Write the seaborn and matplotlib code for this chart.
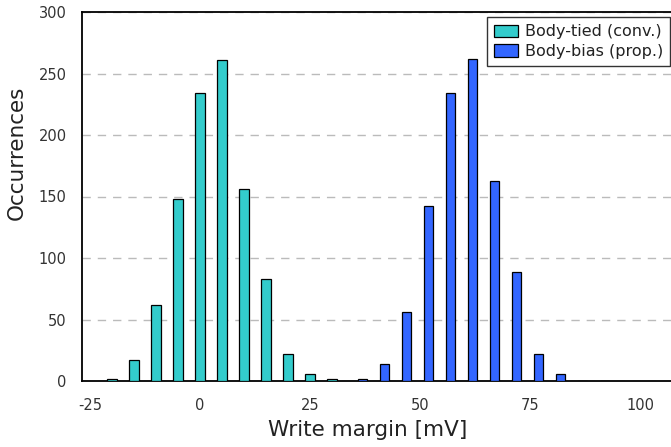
import matplotlib
matplotlib.use("Agg")
import matplotlib.pyplot as plt
import seaborn as sns
import pandas as pd

# Data
tied_x = [-20, -15, -10, -5, 0, 5, 10, 15, 20, 25, 30]
tied_counts = [1.5, 17, 62, 148, 234, 261, 156, 83, 22, 6, 1.5]
bias_x = [37, 42, 47, 52, 57, 62, 67, 72, 77, 82, 87, 92]
bias_counts = [1.5, 14, 56, 142, 234, 262, 163, 89, 22, 6, 0.4, 0.4]
series_names = ["Body-tied (conv.)", "Body-bias (prop.)"]
x_ticks = [-25, 0, 25, 50, 75, 100]
y_ticks = [0, 50, 100, 150, 200, 250, 300]

df = pd.DataFrame({
    "margin": tied_x + bias_x,
    "count": tied_counts + bias_counts,
    "series": [series_names[0]] * len(tied_x) + [series_names[1]] * len(bias_x),
})

sns.set_style("white")
plt.rcParams["font.family"] = ["DejaVu Sans"]

W, H = 671, 447
fig = plt.figure(figsize=(W / 100, H / 100), dpi=100)
left_px, right_px, top_px, bottom_px = 82, 684, 12, 381
aw, ah = right_px - left_px, bottom_px - top_px
ax = fig.add_axes([left_px / W, 1 - bottom_px / H, aw / W, ah / H])

palette = {series_names[0]: "#33CCCC", series_names[1]: "#3366FF"}
sns.barplot(data=df, x="margin", y="count", hue="series", palette=palette,
            native_scale=True, dodge=False, width=0.42, edgecolor="black",
            linewidth=0.9, saturation=1, ax=ax, zorder=3)

ax.set_xlim(-26.8, 110)
ax.set_ylim(0, 300)
ax.set_xticks(x_ticks)
ax.set_xticklabels([str(v) for v in x_ticks])
ax.set_yticks(y_ticks)
ax.set_yticklabels([str(v) for v in y_ticks])
ax.tick_params(axis="both", length=0, labelsize=10.5, colors="#333333")
ax.tick_params(axis="y", pad=11)
ax.tick_params(axis="x", pad=12)

ax.yaxis.grid(True, linestyle=(0, (6, 5)), color="#BBBBBB", linewidth=1)
ax.set_axisbelow(True)
for s in ["left", "bottom", "top", "right"]:
    ax.spines[s].set_color("black")
    ax.spines[s].set_linewidth(1.3)

ax.set_xlabel("Write margin [mV]", fontsize=15.5, color="#222222")
ax.xaxis.set_label_coords((368 - left_px) / aw, -(430 - bottom_px) / ah)
ax.xaxis.label.set_verticalalignment("center")
ax.set_ylabel("Occurrences", fontsize=15.5, color="#222222")
ax.yaxis.set_label_coords(-(left_px - 17) / aw, (bottom_px - 153) / ah)
ax.yaxis.label.set_verticalalignment("center")

leg = ax.legend(loc="upper right", bbox_to_anchor=(670 / W, 1 - 17 / H),
                bbox_transform=fig.transFigure, frameon=True, fancybox=False,
                fontsize=11.5, handlelength=1.5, handleheight=0.8,
                borderpad=0.45, labelspacing=0.3, handletextpad=0.4,
                borderaxespad=0)
leg.get_frame().set_edgecolor("black")
leg.get_frame().set_linewidth(1.0)
for t in leg.get_texts():
    t.set_color("#222222")

fig.savefig("out.png", dpi=100)
